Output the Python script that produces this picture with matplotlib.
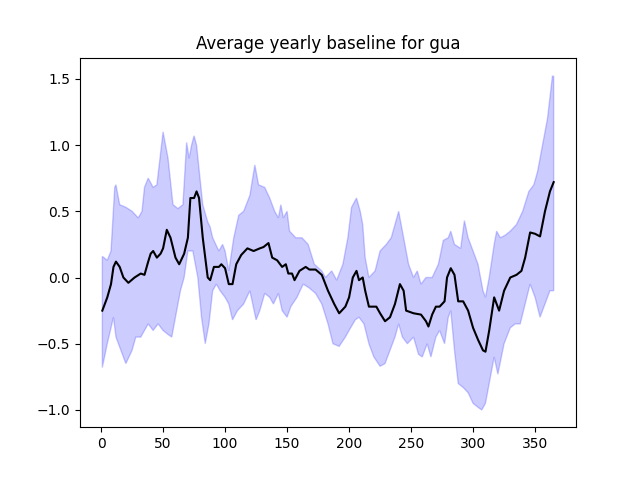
import numpy as np
import matplotlib
matplotlib.use("Agg")
import matplotlib.pyplot as plt

mean_days = [1, 5, 8, 10, 12, 15, 18, 22, 27, 32, 35, 38, 40, 42, 45, 48, 50, 53, 56, 60, 63, 67, 70, 72, 75, 77, 79, 82, 86, 88, 91, 95, 97, 100, 103, 106, 109, 113, 118, 123, 128, 131, 135, 138, 142, 146, 149, 151, 154, 156, 160, 165, 168, 173, 178, 183, 188, 192, 197, 200, 203, 206, 208, 211, 213, 216, 222, 225, 229, 233, 237, 241, 244, 246, 252, 258, 262, 264, 267, 270, 273, 277, 279, 282, 285, 288, 292, 296, 300, 304, 308, 310, 313, 317, 321, 325, 330, 335, 339, 342, 346, 350, 354, 358, 362, 365]
mean_vals = [-0.25, -0.15, -0.05, 0.08, 0.12, 0.08, 0.0, -0.04, 0.0, 0.03, 0.02, 0.12, 0.18, 0.2, 0.15, 0.18, 0.22, 0.36, 0.3, 0.15, 0.1, 0.18, 0.3, 0.6, 0.6, 0.65, 0.6, 0.3, 0.0, -0.02, 0.08, 0.08, 0.1, 0.07, -0.05, -0.05, 0.1, 0.17, 0.22, 0.2, 0.22, 0.23, 0.26, 0.15, 0.13, 0.08, 0.1, 0.03, 0.03, -0.02, 0.05, 0.08, 0.06, 0.06, 0.02, -0.1, -0.2, -0.27, -0.22, -0.15, 0.0, 0.05, -0.02, 0.0, -0.1, -0.22, -0.22, -0.27, -0.33, -0.3, -0.2, -0.05, -0.1, -0.25, -0.27, -0.28, -0.33, -0.37, -0.28, -0.22, -0.22, -0.18, 0.0, 0.07, 0.02, -0.18, -0.18, -0.25, -0.38, -0.47, -0.55, -0.56, -0.4, -0.15, -0.25, -0.1, 0.0, 0.02, 0.05, 0.15, 0.34, 0.33, 0.31, 0.5, 0.65, 0.72]

upper_days = [1, 5, 8, 11, 12, 15, 20, 25, 30, 33, 35, 38, 42, 45, 50, 54, 58, 62, 66, 69, 71, 73, 75, 77, 82, 86, 88, 90, 95, 98, 100, 103, 107, 111, 115, 120, 124, 127, 132, 136, 140, 143, 145, 147, 150, 152, 157, 162, 167, 172, 178, 181, 186, 190, 195, 199, 202, 206, 209, 211, 213, 216, 221, 225, 230, 234, 240, 244, 248, 252, 255, 258, 262, 267, 272, 276, 280, 282, 285, 290, 293, 296, 300, 304, 308, 310, 313, 317, 319, 322, 326, 330, 335, 340, 345, 349, 352, 356, 360, 364, 365]
upper_vals = [0.16, 0.13, 0.2, 0.68, 0.7, 0.55, 0.53, 0.5, 0.45, 0.5, 0.68, 0.75, 0.68, 0.7, 1.1, 0.9, 0.55, 0.52, 0.55, 1.02, 0.9, 1.0, 1.07, 1.0, 0.55, 0.42, 0.38, 0.3, 0.2, 0.25, 0.2, 0.05, 0.3, 0.47, 0.5, 0.62, 0.85, 0.7, 0.68, 0.6, 0.5, 0.45, 0.55, 0.45, 0.5, 0.35, 0.3, 0.3, 0.25, 0.1, 0.05, 0.0, 0.05, -0.02, 0.1, 0.3, 0.53, 0.6, 0.5, 0.4, 0.15, 0.0, 0.05, 0.2, 0.25, 0.3, 0.5, 0.3, 0.1, 0.0, 0.05, -0.05, 0.0, 0.0, 0.1, 0.28, 0.3, 0.35, 0.25, 0.22, 0.43, 0.3, 0.2, 0.1, -0.1, -0.15, 0.0, 0.25, 0.35, 0.3, 0.32, 0.35, 0.4, 0.5, 0.65, 0.7, 0.8, 1.0, 1.2, 1.52, 1.52]

lower_days = [1, 5, 10, 12, 16, 20, 25, 28, 32, 35, 38, 42, 46, 50, 54, 57, 60, 64, 67, 70, 74, 78, 81, 84, 87, 90, 93, 96, 100, 103, 106, 110, 115, 120, 125, 128, 132, 136, 139, 143, 146, 150, 153, 158, 163, 168, 173, 178, 183, 187, 192, 197, 200, 205, 208, 212, 216, 220, 225, 229, 233, 237, 240, 243, 247, 252, 256, 259, 263, 266, 270, 273, 277, 280, 282, 285, 288, 292, 296, 300, 304, 307, 310, 313, 317, 320, 325, 330, 334, 338, 342, 346, 350, 354, 358, 362, 365]
lower_vals = [-0.68, -0.5, -0.3, -0.45, -0.55, -0.65, -0.55, -0.45, -0.45, -0.4, -0.35, -0.4, -0.35, -0.4, -0.43, -0.45, -0.3, -0.1, 0.0, 0.2, 0.2, 0.0, -0.3, -0.5, -0.35, -0.1, -0.05, -0.1, -0.15, -0.2, -0.32, -0.25, -0.2, -0.1, -0.32, -0.25, -0.12, -0.15, -0.2, -0.12, -0.25, -0.3, -0.22, -0.15, -0.05, -0.08, -0.12, -0.2, -0.35, -0.5, -0.52, -0.45, -0.4, -0.32, -0.3, -0.35, -0.5, -0.6, -0.67, -0.65, -0.55, -0.45, -0.35, -0.45, -0.5, -0.45, -0.58, -0.6, -0.5, -0.6, -0.45, -0.4, -0.5, -0.3, -0.25, -0.55, -0.8, -0.83, -0.87, -0.95, -0.98, -1.0, -0.95, -0.8, -0.6, -0.73, -0.5, -0.38, -0.35, -0.35, -0.2, -0.05, -0.15, -0.3, -0.2, -0.1, -0.1]

fig, ax = plt.subplots(figsize=(6.4, 4.8), dpi=100)

# band as one polygon: upper edge forward, lower edge backward
band_x = upper_days + lower_days[::-1]
band_y = upper_vals + lower_vals[::-1]
ax.fill(band_x, band_y, facecolor=(0, 0, 1, 0.2), edgecolor=(0, 0, 1, 0.2))
ax.plot(mean_days, mean_vals, color='black')

ax.set_title('Average yearly baseline for gua')
ax.set_xlim(-17, 383)
ax.set_ylim(-1.13, 1.66)

fig.savefig('out.png')
